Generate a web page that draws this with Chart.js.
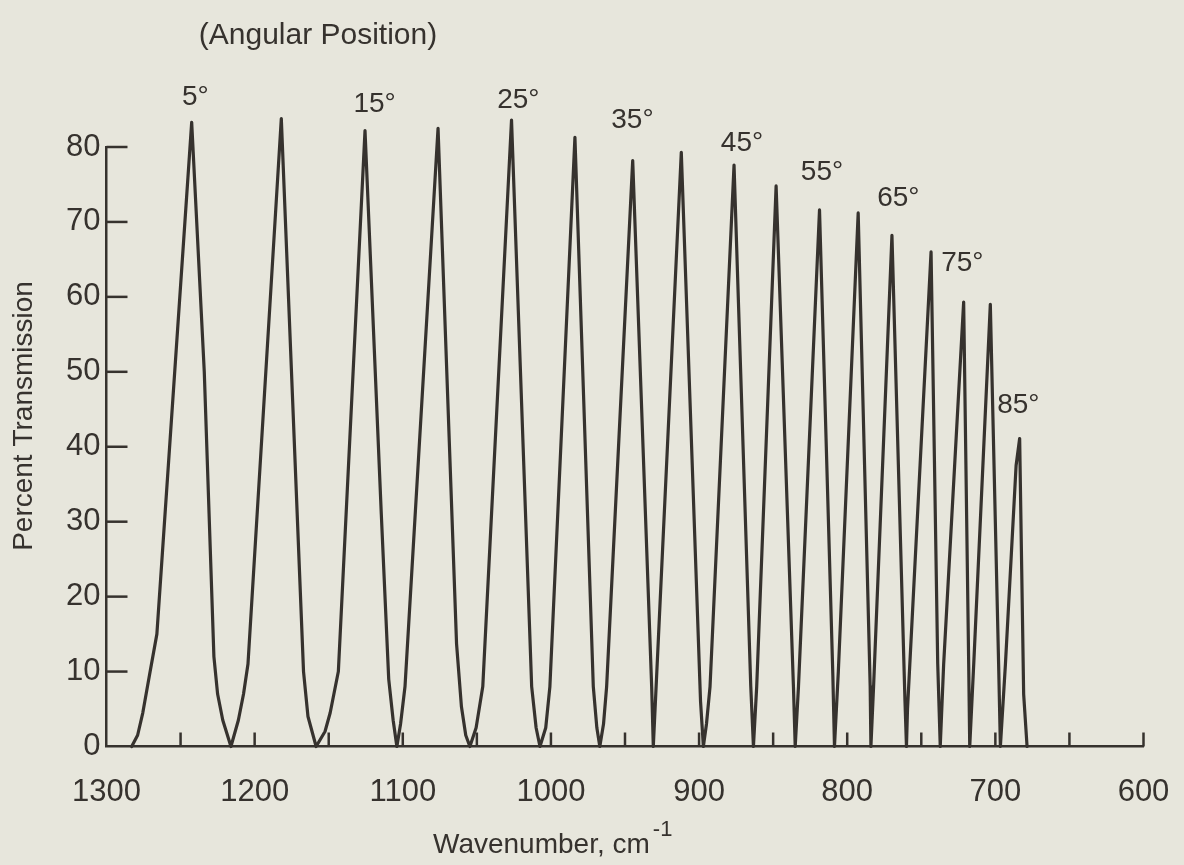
<!DOCTYPE html>
<html>
<head>
<meta charset="utf-8">
<title>Percent Transmission vs Wavenumber</title>
<script src="https://cdn.jsdelivr.net/npm/chart.js@4.4.1/dist/chart.umd.min.js"></script>
<style>
  html, body { margin: 0; padding: 0; background: #e7e6dc; }
  #wrap { width: 1184px; height: 865px; }
</style>
</head>
<body>
<div id="wrap"><canvas id="grafica" width="1184" height="865"></canvas></div>
<script>
// trace, peak by peak (5° ... 85°)
const wavenumber = [
  1283, 1279, 1275.5, 1271, 1266, 1242.5, 1234, 1227.5, 1225, 1221.5, 1216,
  1211, 1207.5, 1204.5, 1182, 1167, 1164, 1158.5,
  1152.5, 1149, 1143.5, 1125.5, 1114.5, 1109.5, 1106.5, 1104,
  1101.5, 1098.5, 1076.2, 1063.7, 1060.4, 1057.5, 1054.7,
  1050.5, 1046, 1026.6, 1013, 1010, 1007.4,
  1003.5, 1000.7, 983.8, 971.4, 969, 967,
  964.5, 962.4, 944.8, 932, 930.9,
  912, 899, 897.1,
  895, 892.6, 876.4, 865.1, 863.3,
  861.1, 848, 836.3, 835.1,
  832.9, 818.7, 809.7, 808.6,
  806, 792.6, 784.5, 784,
  782.2, 769.8, 761, 760,
  759.3, 743.4, 738.9, 737.2,
  734.9, 721.4, 718, 717.3,
  714.6, 703.4, 697.8, 696.6,
  693.2, 686, 683.6, 680.9, 678.6
];
const transmission = [
  0, 1.5, 4.5, 9.5, 15, 83.3, 50, 12, 7, 3.5, 0,
  3.5, 7, 11, 83.8, 10, 4, 0,
  2, 4.5, 10, 82.2, 31, 9, 3.5, 0,
  3, 8, 82.5, 13.7, 5.3, 1.5, 0,
  2.5, 8, 83.6, 8, 2.5, 0,
  2.5, 8, 81.3, 8, 2.5, 0,
  3, 8, 78.2, 8, 0,
  79.3, 6, 0,
  3, 8, 77.6, 8, 0,
  8, 74.8, 8, 0,
  8, 71.6, 9.5, 0,
  10, 71.2, 8, 0,
  8, 68.2, 6, 0,
  5, 66, 11, 0,
  11, 59.3, 11, 0,
  11, 59, 11, 0,
  11, 37.5, 41.1, 7, 0
];

// angular position labels, placed in data units
const angleText = ["5°", "15°", "25°", "35°", "45°", "55°", "65°", "75°", "85°"];
const angleWavenumber = [1240, 1119, 1022, 945, 871, 817, 765.5, 722.3, 684.5];
const anglePercent = [86.6, 85.7, 86.2, 83.6, 80.5, 76.6, 73.2, 64.5, 45.5];

const tinta = "#36322e";
const fuente = "'Liberation Sans', Arial, sans-serif";

const puntos = wavenumber.map((x, i) => ({ x, y: transmission[i] }));

const rotulos = {
  id: "rotulos",
  afterDraw(chart) {
    const { ctx, chartArea, scales } = chart;
    const ejeX = scales.x;
    const ejeY = scales.y;
    ctx.save();
    ctx.strokeStyle = tinta;
    ctx.fillStyle = tinta;
    ctx.lineWidth = 2.5;

    // tick marks point inward
    ejeX.ticks.forEach((t) => {
      if (t.value === 1300) return;
      const px = ejeX.getPixelForValue(t.value);
      ctx.beginPath();
      ctx.moveTo(px, chartArea.bottom);
      ctx.lineTo(px, chartArea.bottom - 14);
      ctx.stroke();
    });
    ejeY.ticks.forEach((t) => {
      if (t.value === 0) return;
      const py = ejeY.getPixelForValue(t.value);
      ctx.beginPath();
      ctx.moveTo(chartArea.left, py);
      ctx.lineTo(chartArea.left + 21, py);
      ctx.stroke();
    });

    ctx.textAlign = "center";
    ctx.textBaseline = "middle";
    ctx.font = `28px ${fuente}`;
    angleText.forEach((t, i) => {
      ctx.fillText(t, ejeX.getPixelForValue(angleWavenumber[i]), ejeY.getPixelForValue(anglePercent[i]));
    });

    ctx.textBaseline = "alphabetic";
    ctx.font = `30px ${fuente}`;
    ctx.fillText("(Angular Position)", 318, 44);

    // y title
    ctx.save();
    ctx.translate(32, 416);
    ctx.rotate(-Math.PI / 2);
    ctx.font = `28px ${fuente}`;
    ctx.fillText("Percent Transmission", 0, 0);
    ctx.restore();

    // x title with superscript
    ctx.textAlign = "left";
    ctx.font = `28px ${fuente}`;
    const base = "Wavenumber, cm";
    const ancho = ctx.measureText(base).width;
    ctx.fillText(base, 433, 853);
    ctx.font = `22px ${fuente}`;
    ctx.fillText("-1", 433 + ancho + 3, 836);
    ctx.restore();
  }
};

const config = {
  type: "line",
  data: {
    datasets: [
      {
        data: puntos,
        borderColor: tinta,
        borderWidth: 3.2,
        borderJoinStyle: "round",
        borderCapStyle: "round",
        pointRadius: 0,
        tension: 0,
        clip: false
      }
    ]
  },
  options: {
    responsive: false,
    animation: false,
    layout: { padding: { top: 147, right: 40.5, left: 0, bottom: 0 } },
    plugins: { legend: { display: false }, tooltip: { enabled: false } },
    scales: {
      x: {
        type: "linear",
        reverse: true,
        min: 600,
        max: 1300,
        afterFit: (scale) => {
          scale.height = 118.5;
          scale.paddingLeft = 0;
          scale.paddingRight = 0;
        },
        grid: { display: true, drawOnChartArea: false, drawTicks: false },
        border: { display: true, color: tinta, width: 2.5 },
        ticks: {
          stepSize: 50,
          autoSkip: false,
          maxRotation: 0,
          padding: 27,
          color: tinta,
          font: { family: fuente, size: 31 },
          callback: (v) => (v % 100 === 0 ? v : "")
        }
      },
      y: {
        min: 0,
        max: 80,
        afterFit: (scale) => { scale.width = 106.5; },
        grid: { display: true, drawOnChartArea: false, drawTicks: false },
        border: { display: true, color: tinta, width: 2.5 },
        ticks: {
          stepSize: 10,
          padding: 6,
          color: tinta,
          font: { family: fuente, size: 31 }
        }
      }
    }
  },
  plugins: [rotulos]
};

const myGraph = new Chart(document.getElementById("grafica"), config);
</script>
</body>
</html>
